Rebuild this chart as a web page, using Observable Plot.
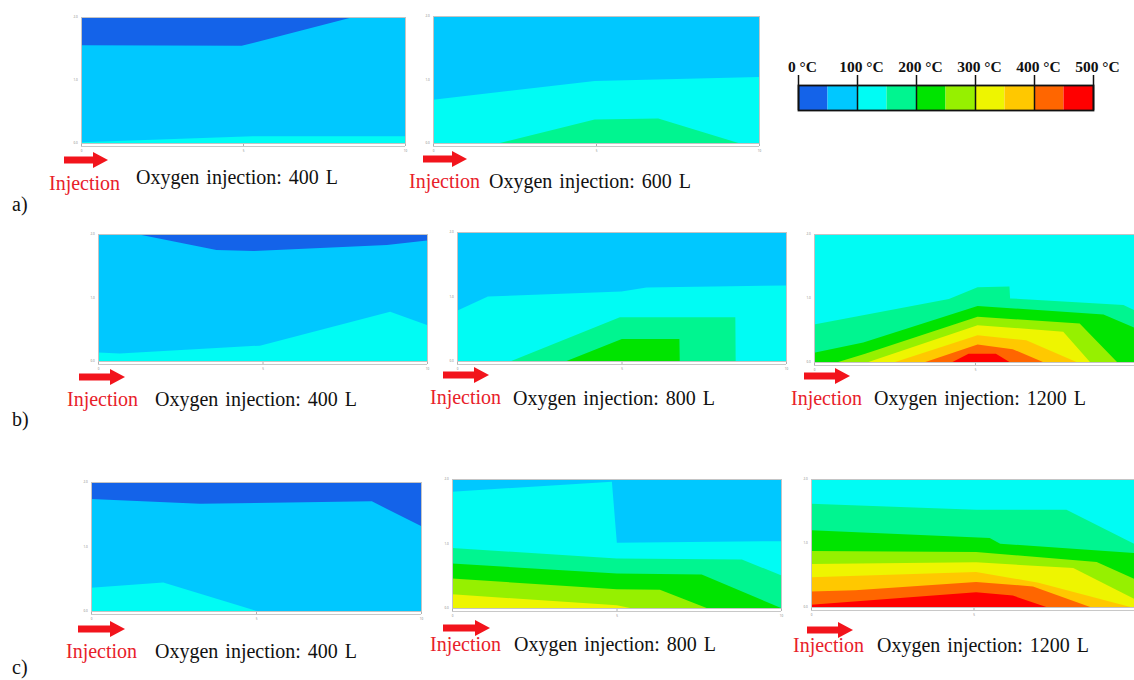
<!DOCTYPE html>
<html>
<head>
<meta charset="utf-8">
<script src="https://cdn.jsdelivr.net/npm/d3@7"></script>
<script src="https://cdn.jsdelivr.net/npm/@observablehq/plot@0.6"></script>
<style>
  html, body { margin: 0; padding: 0; background: #fff; }
  #fig { position: relative; width: 1134px; height: 680px; overflow: hidden; background: #fff;
         font-family: "Liberation Serif", "Times New Roman", serif; }
  #fig svg { position: absolute; }
</style>
</head>
<body>
<div id="fig"></div>
<script>
// Temperature classes, 50 °C wide, 0–500 °C
const classBreaks = [50, 100, 150, 200, 250, 300, 350, 400, 450];
const classLows = [0, 50, 100, 150, 200, 250, 300, 350, 400, 450];
const legendTicks = [0, 100, 200, 300, 400, 500];
const palette = ["#1463e9", "#00c8ff", "#00fcf4", "#00f590", "#00e400",
                 "#96f000", "#eef500", "#ffc800", "#ff6600", "#ff0000"];

// Injected oxygen volume (L) for each panel, rows a, b, c
const volumes = [400, 600, 400, 800, 1200, 400, 800, 1200];

// Isotherms per panel: t = lower bound of the class found below the line,
// x = relative distance from the injection end, h = relative height of the line.
const isoA400 = [
  {t: 0,   x: [0, 1], h: [1, 1]},
  {t: 50,  x: [0, 0.496, 0.841, 1], h: [0.776, 0.771, 1, 1]},
  {t: 100, x: [0, 0.53, 1], h: [0.005, 0.053, 0.053]}
];
const isoA600 = [
  {t: 50,  x: [0, 1], h: [1, 1]},
  {t: 100, x: [0, 0.496, 1], h: [0.341, 0.488, 0.520]},
  {t: 150, x: [0, 0.205, 0.496, 0.691, 0.937, 1], h: [0, 0, 0.186, 0.192, 0, 0]}
];
const isoB400 = [
  {t: 0,   x: [0, 1], h: [1, 1]},
  {t: 50,  x: [0, 0.117, 0.360, 0.472, 0.878, 1], h: [1, 1, 0.874, 0.866, 0.913, 0.948]},
  {t: 100, x: [0, 0.066, 0.492, 0.888, 1], h: [0.066, 0.060, 0.121, 0.388, 0.283]}
];
const isoB800 = [
  {t: 50,  x: [0, 1], h: [1, 1]},
  {t: 100, x: [0, 0.094, 0.5, 0.576, 1], h: [0.389, 0.5, 0.539, 0.570, 0.585]},
  {t: 150, x: [0, 0.165, 0.495, 0.846, 0.847, 1], h: [0, 0, 0.339, 0.339, 0, 0]},
  {t: 200, x: [0, 0.333, 0.501, 0.676, 0.677, 1], h: [0, 0, 0.171, 0.171, 0, 0]}
];
const isoB1200 = [
  {t: 100, x: [0, 1], h: [1, 1]},
  {t: 150, x: [0, 0.419, 0.508, 0.607, 0.609, 0.961, 1], h: [0.293, 0.492, 0.584, 0.589, 0.497, 0.445, 0.40]},
  {t: 200, x: [0, 0.153, 0.508, 0.899, 1], h: [0.073, 0.152, 0.437, 0.372, 0.262]},
  {t: 250, x: [0, 0.075, 0.159, 0.508, 0.825, 0.941, 1], h: [0, 0, 0.065, 0.353, 0.30, 0, 0]},
  {t: 300, x: [0, 0.169, 0.508, 0.774, 0.857, 1], h: [0, 0, 0.288, 0.236, 0, 0]},
  {t: 350, x: [0, 0.252, 0.508, 0.659, 0.815, 1], h: [0, 0, 0.209, 0.17, 0, 0]},
  {t: 400, x: [0, 0.346, 0.508, 0.617, 0.711, 1], h: [0, 0, 0.136, 0.10, 0, 0]},
  {t: 450, x: [0, 0.430, 0.48, 0.565, 0.607, 1], h: [0, 0, 0.065, 0.065, 0, 0]}
];
const isoC400 = [
  {t: 0,   x: [0, 1], h: [1, 1]},
  {t: 50,  x: [0, 0.330, 0.851, 1], h: [0.868, 0.832, 0.850, 0.658]},
  {t: 100, x: [0, 0.219, 0.502, 1], h: [0.181, 0.220, 0, 0]}
];
const isoC800 = [
  {t: 50,  x: [0, 1], h: [1, 1]},
  {t: 100, x: [0, 0.486, 0.501, 1], h: [0.902, 0.979, 0.505, 0.518]},
  {t: 150, x: [0, 0.501, 0.881, 1], h: [0.466, 0.383, 0.376, 0.254]},
  {t: 200, x: [0, 0.501, 0.759, 1], h: [0.345, 0.267, 0.259, 0]},
  {t: 250, x: [0, 0.501, 0.632, 0.774, 1], h: [0.228, 0.145, 0.142, 0, 0]},
  {t: 300, x: [0, 0.501, 0.541, 1], h: [0.106, 0.021, 0, 0]}
];
const isoC1200 = [
  {t: 100, x: [0, 1], h: [1, 1]},
  {t: 150, x: [0, 0.508, 0.786, 1], h: [0.807, 0.760, 0.760, 0.487]},
  {t: 200, x: [0, 0.550, 0.582, 1], h: [0.599, 0.539, 0.495, 0.42]},
  {t: 250, x: [0, 0.508, 0.879, 1], h: [0.4375, 0.43, 0.352, 0.214]},
  {t: 300, x: [0, 0.508, 0.807, 1], h: [0.336, 0.349, 0.305, 0.057]},
  {t: 350, x: [0, 0.508, 0.70, 0.983, 1], h: [0.232, 0.273, 0.19, 0, 0]},
  {t: 400, x: [0, 0.136, 0.508, 0.683, 0.859, 1], h: [0.122, 0.130, 0.195, 0.161, 0, 0]},
  {t: 450, x: [0, 0.508, 0.621, 0.724, 1], h: [0.018, 0.115, 0.089, 0, 0]}
];

// Axis ticks of each contour panel (relative units)
const axisTicks = [0, 0.5, 1];

// Page layout: plot box [left, right, top, bottom], arrow [x0, x1, y],
// baselines of the red "Injection" tag and of the caption
const layout = [
  {iso: isoA400,  box: [81, 405, 17, 143],   arrow: [64, 108, 160],  inj: [49, 190],  cap: [136, 184]},
  {iso: isoA600,  box: [433, 759, 16, 143],  arrow: [423, 467, 159], inj: [409, 188], cap: [489, 188]},
  {iso: isoB400,  box: [98, 427, 234, 361],  arrow: [79, 125, 377],  inj: [67, 406],  cap: [155, 406]},
  {iso: isoB800,  box: [457, 786, 232, 361], arrow: [443, 489, 375], inj: [430, 404], cap: [513, 405]},
  {iso: isoB1200, box: [814, 1136, 234, 362], arrow: [804, 850, 376], inj: [791, 405], cap: [874, 405]},
  {iso: isoC400,  box: [91, 421, 482, 611],  arrow: [78, 125, 629],  inj: [66, 658],  cap: [155, 658]},
  {iso: isoC800,  box: [452, 781, 479, 608], arrow: [443, 490, 628], inj: [430, 651], cap: [514, 651]},
  {iso: isoC1200, box: [811, 1136, 479, 607], arrow: [807, 853, 630], inj: [793, 652], cap: [877, 652]}
];
const rowTags = [{text: "a)", y: 211}, {text: "b)", y: 426}, {text: "c)", y: 674}];

const serif = '"Liberation Serif", "Times New Roman", serif';
const fig = document.getElementById("fig");
const tempColor = {type: "threshold", domain: classBreaks, range: palette};

function contourPanel({iso, box}) {
  const [L, R, T, B] = box;
  const ml = 12, mr = 3, mt = 2, mb = 10;
  const rows = iso.flatMap(({t, x, h}) => x.map((xi, i) => ({t, x: xi, h: h[i]})));
  // ticks whose label would fall beyond the page edge are left out
  const xTicks = axisTicks.filter(d => L + d * (R - L) < 1128);
  const svg = Plot.plot({
    width: R - L + ml + mr,
    height: B - T + mt + mb,
    marginLeft: ml, marginRight: mr, marginTop: mt, marginBottom: mb,
    x: {type: "linear", domain: [0, 1], axis: null},
    y: {type: "linear", domain: [0, 1], axis: null},
    color: tempColor,
    style: {background: "transparent", overflow: "visible"},
    marks: [
      // each isotherm fills everything beneath it; hotter classes paint last
      Plot.areaY(rows, {x: "x", y1: 0, y2: "h", z: "t", fill: "t", curve: "linear"}),
      Plot.frame({stroke: "#c4c4c4"}),
      Plot.ruleY([0], {dy: 3, stroke: "#c8c8c8"}),
      Plot.ruleX(xTicks, {x: d => d, y1: 0, y2: 0, dy: 3, insetTop: -2, stroke: "#b0b0b0"}),
      Plot.text(xTicks, {x: d => d, y: 0, dy: 8, text: d => d * 10, fontSize: 3, fill: "#888"}),
      Plot.text(axisTicks, {x: 0, y: d => d, dx: -6, text: d => (d * 2).toFixed(1), fontSize: 3, fill: "#888"})
    ]
  });
  svg.style.left = (L - ml) + "px";
  svg.style.top = (T - mt) + "px";
  fig.appendChild(svg);
}

function colorBar() {
  const L = 798, R = 1093, top = 85, bottom = 110;
  const ml = 10, mr = 30, mt = 35, mb = 5;
  const svg = Plot.plot({
    width: R - L + ml + mr,
    height: bottom - top + mt + mb,
    marginLeft: ml, marginRight: mr, marginTop: mt, marginBottom: mb,
    x: {type: "linear", domain: [0, 500], axis: null},
    y: {type: "linear", domain: [0, 1], axis: null},
    color: tempColor,
    style: {background: "transparent", overflow: "visible"},
    marks: [
      Plot.rect(classLows, {x1: d => d, x2: d => d + 50, y1: 0, y2: 1, fill: d => d}),
      Plot.frame({stroke: "#111", strokeWidth: 1.8}),
      Plot.ruleX(legendTicks, {x: d => d, y1: 0, y2: 1.4, stroke: "#111", strokeWidth: 1.5}),
      Plot.text(legendTicks, {x: d => d, y: 1.56, dx: 4, text: d => `${d} °C`, lineAnchor: "bottom",
        fontSize: 15.5, fontWeight: "bold", fontFamily: serif, fill: "#111"})
    ]
  });
  svg.style.left = (L - ml) + "px";
  svg.style.top = (top - mt) + "px";
  fig.appendChild(svg);
}

layout.forEach(contourPanel);
colorBar();

// Arrows, tags and captions
const ann = d3.select(fig).append("svg")
  .attr("width", 1134).attr("height", 680)
  .style("left", "0px").style("top", "0px");

function arrowPath([x0, x1, cy]) {
  const sh = 3.5, hh = 8, hl = 15;
  return `M${x0},${cy - sh}L${x1 - hl},${cy - sh}L${x1 - hl},${cy - hh}L${x1},${cy}` +
         `L${x1 - hl},${cy + hh}L${x1 - hl},${cy + sh}L${x0},${cy + sh}Z`;
}

layout.forEach((p, i) => {
  ann.append("path").attr("d", arrowPath(p.arrow)).attr("fill", "#f2141c");
  ann.append("text").attr("x", p.inj[0]).attr("y", p.inj[1])
    .attr("font-family", serif).attr("font-size", 20).attr("fill", "#e8202a").text("Injection");
  ann.append("text").attr("x", p.cap[0]).attr("y", p.cap[1])
    .attr("font-family", serif).attr("font-size", 20).attr("word-spacing", 2).attr("fill", "#111")
    .text(`Oxygen injection: ${volumes[i]} L`);
});

rowTags.forEach(r => {
  ann.append("text").attr("x", 12).attr("y", r.y).attr("font-family", serif)
    .attr("font-size", 20).attr("fill", "#111").text(r.text);
});
</script>
</body>
</html>
